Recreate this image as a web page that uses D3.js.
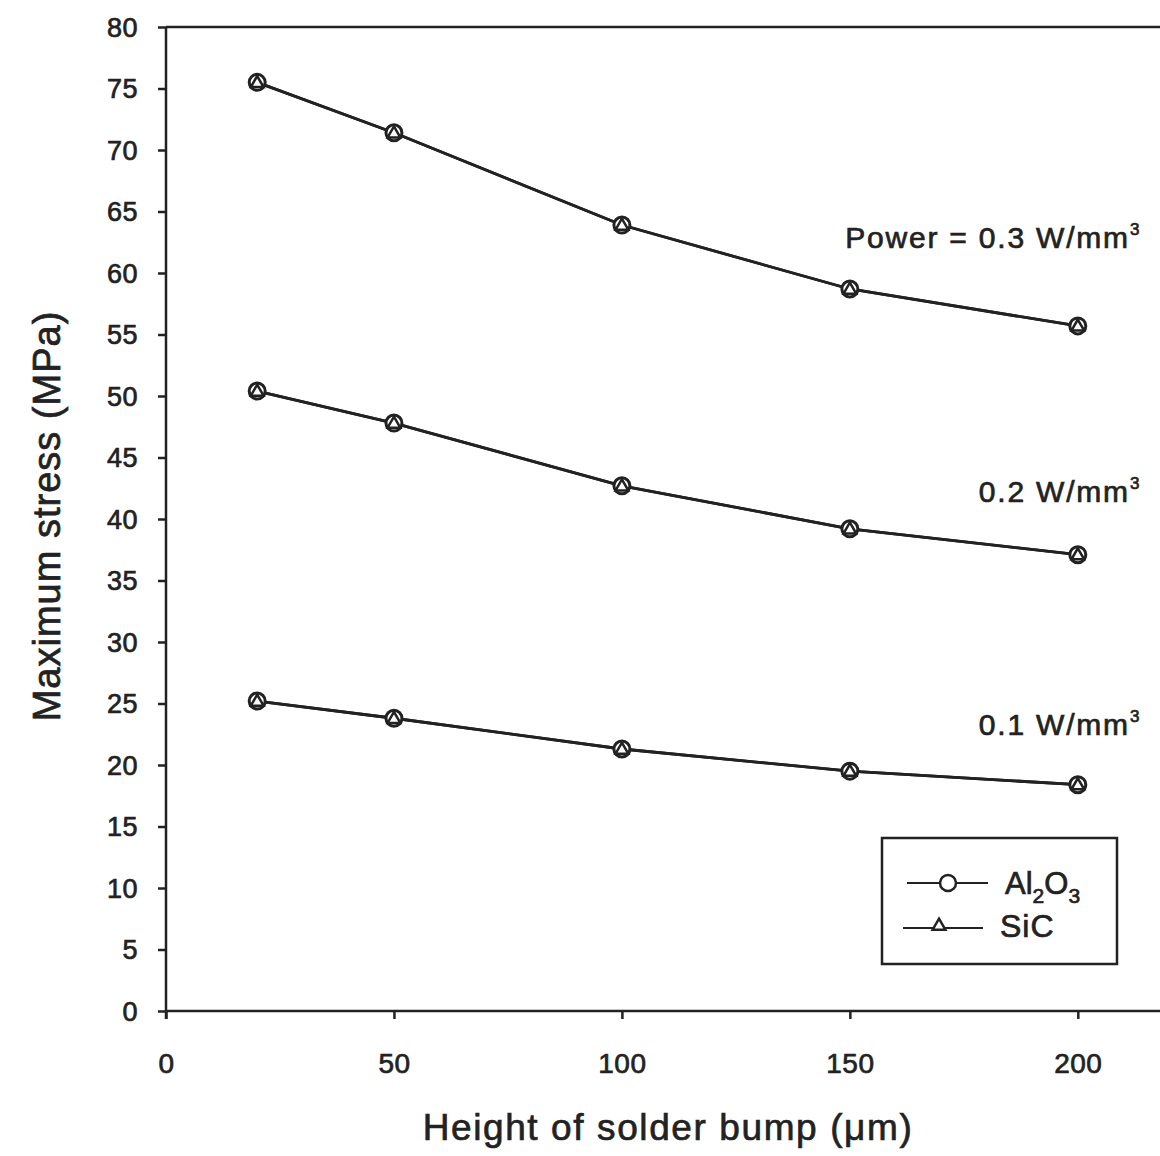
<!DOCTYPE html>
<html><head><meta charset="utf-8">
<script src="https://cdn.jsdelivr.net/npm/d3@7"></script>
<style>
body{margin:0;background:#fff;}
svg{display:block;font-family:"Liberation Sans",Arial,sans-serif;}
</style></head>
<body><svg id="c" width="1160" height="1156"></svg>
<script>
const heights = [20, 50, 100, 150, 200];
const al2o3_p03 = [75.5, 71.4, 63.9, 58.7, 55.7];
const al2o3_p02 = [50.4, 47.8, 42.7, 39.2, 37.1];
const al2o3_p01 = [25.2, 23.8, 21.3, 19.5, 18.4];
const sic_p03 = [75.5, 71.4, 63.9, 58.7, 55.7];
const sic_p02 = [50.4, 47.8, 42.7, 39.2, 37.1];
const sic_p01 = [25.2, 23.8, 21.3, 19.5, 18.4];
const xTicks = [0, 50, 100, 150, 200];
const yTicks = [0,5,10,15,20,25,30,35,40,45,50,55,60,65,70,75,80];
const powerLabels = [
  {text:"Power = 0.3 W/mm", at:[213.5, 62.0]},
  {text:"0.2 W/mm", at:[213.5, 41.4]},
  {text:"0.1 W/mm", at:[213.5, 22.4]}
];
const legendNames = ["Al2O3", "SiC"];

const svg = d3.select("#c");
const x = d3.scaleLinear().domain([0, 220]).range([166, 1169]);
const y = d3.scaleLinear().domain([0, 80]).range([1011, 27]);
const ink = "#222";
const thick = sel => sel.attr("stroke", ink).attr("stroke-width", 0.7);

// top border
svg.append("line").attr("x1", x(0)).attr("x2", 1160).attr("y1", y(80)).attr("y2", y(80))
  .attr("stroke", ink).attr("stroke-width", 2.5);

const xa = svg.append("g").attr("transform", `translate(0,${y(0)})`)
  .call(d3.axisBottom(x).tickValues(xTicks).tickSize(8).tickSizeOuter(0).tickFormat(d3.format("d")));
const ya = svg.append("g").attr("transform", `translate(${x(0)},0)`)
  .call(d3.axisLeft(y).tickValues(yTicks).tickSize(8).tickSizeOuter(0));
[xa, ya].forEach(a => {
  a.selectAll("path,line").attr("stroke", ink).attr("stroke-width", 2.5);
  a.selectAll("text").attr("fill", ink).attr("font-family", "Liberation Sans, Arial, sans-serif").call(thick);
});
xa.select(".domain").attr("d", `M${x(0)},0H1160`);
ya.select(".domain").attr("d", `M0,${y(80)}V${y(0) + 8}`);
xa.selectAll("text").attr("font-size", 28).attr("y", 0).attr("dy", 62).attr("letter-spacing", 0.5);
ya.selectAll("text").attr("font-size", 27).attr("x", -28).attr("dy", "0.35em").attr("letter-spacing", 0.5);

// axis titles
svg.append("text").attr("x", 668).attr("y", 1140).attr("text-anchor", "middle")
  .attr("font-size", 37).attr("letter-spacing", 1.6).attr("fill", ink).call(thick).text("Height of solder bump (\u03bcm)");
svg.append("text").attr("transform", `translate(60,516) rotate(-90)`)
  .attr("text-anchor", "middle").attr("font-size", 38).attr("letter-spacing", 1).attr("fill", ink).call(thick).text("Maximum stress (MPa)");

const line = d3.line().x(d => x(d[0])).y(d => y(d[1]));
const seriesAl = [al2o3_p03, al2o3_p02, al2o3_p01];
const seriesSi = [sic_p03, sic_p02, sic_p01];

seriesAl.forEach(vals => {
  svg.append("path").datum(heights.map((h, i) => [h, vals[i]]))
    .attr("d", line).attr("fill", "none").attr("stroke", ink).attr("stroke-width", 2.8);
});
seriesSi.forEach(vals => {
  svg.append("path").datum(heights.map((h, i) => [h, vals[i]]))
    .attr("d", line).attr("fill", "none").attr("stroke", ink).attr("stroke-width", 2.8);
});
const tri = d3.symbol().type(d3.symbolTriangle).size(70);
seriesAl.forEach(vals => {
  svg.append("g").selectAll("circle").data(heights.map((h, i) => [h, vals[i]])).join("circle")
    .attr("cx", d => x(d[0])).attr("cy", d => y(d[1])).attr("r", 8)
    .attr("fill", "#fff").attr("stroke", ink).attr("stroke-width", 3);
});
seriesSi.forEach(vals => {
  svg.append("g").selectAll("path").data(heights.map((h, i) => [h, vals[i]])).join("path")
    .attr("d", tri).attr("transform", d => `translate(${x(d[0])},${y(d[1]) + 1})`)
    .attr("fill", "#fff").attr("stroke", ink).attr("stroke-width", 2.5);
});

// power labels
powerLabels.forEach(p => {
  const t = svg.append("text").attr("x", x(p.at[0])).attr("y", y(p.at[1]))
    .attr("text-anchor", "end").attr("font-size", 30).attr("letter-spacing", 1.8).attr("fill", ink).call(thick);
  t.append("tspan").text(p.text);
  t.append("tspan").attr("font-size", 17).attr("dy", -13).attr("letter-spacing", 0).text("3");
});

// legend
const lg = svg.append("g");
lg.append("rect").attr("x", 882).attr("y", 838).attr("width", 235).attr("height", 126)
  .attr("fill", "#fff").attr("stroke", ink).attr("stroke-width", 2.5);
// Al2O3
lg.append("line").attr("x1", 907).attr("x2", 988).attr("y1", 883).attr("y2", 883).attr("stroke", ink).attr("stroke-width", 2);
lg.append("circle").attr("cx", 948).attr("cy", 883).attr("r", 8).attr("fill", "#fff").attr("stroke", ink).attr("stroke-width", 2.5);
const t1 = lg.append("text").attr("x", 1005).attr("y", 894).attr("font-size", 31).attr("fill", ink).call(thick);
t1.append("tspan").text("Al");
t1.append("tspan").attr("font-size", 21).attr("dy", 9).text("2");
t1.append("tspan").attr("dy", -9).text("O");
t1.append("tspan").attr("font-size", 21).attr("dy", 9).text("3");
// SiC
lg.append("line").attr("x1", 903).attr("x2", 983).attr("y1", 928).attr("y2", 928).attr("stroke", ink).attr("stroke-width", 2);
lg.append("path").attr("d", tri).attr("transform", "translate(939,926)").attr("fill", "#fff").attr("stroke", ink).attr("stroke-width", 2.5);
lg.append("text").attr("x", 1000).attr("y", 937).attr("font-size", 32).attr("letter-spacing", 1).attr("fill", ink).call(thick).text(legendNames[1]);
</script></body></html>
